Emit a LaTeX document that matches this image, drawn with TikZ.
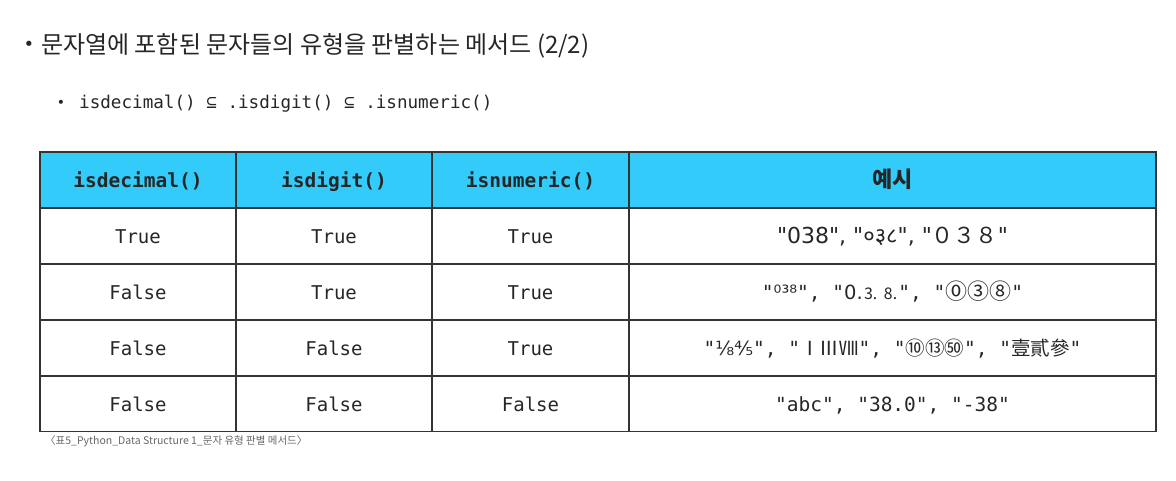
\documentclass[tikz,border=0pt]{standalone}
\usepackage{fontspec}
\setmainfont{Noto Sans CJK KR}
\setmonofont{DejaVu Sans Mono}
\newfontfamily\kr{Noto Sans CJK KR}
\newfontfamily\djs{DejaVu Sans}
\newfontfamily\djm{DejaVu Sans Mono}
\newfontfamily\dev[Script=Devanagari]{Noto Sans}
\definecolor{hdr}{HTML}{33CCFA}
\definecolor{linec}{HTML}{333333}
\begin{document}
\begin{tikzpicture}[x=1pt,y=-1pt,
  cell/.style={draw=linec, line width=1.3pt, inner sep=0pt, minimum height=56pt,
    text height=17pt, text depth=2pt, anchor=center,
    font=\djm\fontsize{19}{22}\selectfont, text=black!85},
  hcell/.style={cell, fill=hdr, font=\djm\bfseries\fontsize{19.5}{22}\selectfont},
  c1/.style={minimum width=196pt},
  c2/.style={minimum width=196pt},
  c3/.style={minimum width=197pt},
  c4/.style={minimum width=527pt},
  excell/.style={cell, c4, font=\djm\fontsize{19.5}{22}\selectfont},
  bul/.style={inner sep=0pt, anchor=center, text=black!85},
  txt/.style={inner sep=0pt, anchor=west, text=black!85}]
\useasboundingbox (0,0) rectangle (1176,480);

% title
\node[bul, font=\djs\fontsize{18}{20}\selectfont] (b1) at (29,46) {•};
\node[txt, font=\kr\fontsize{24}{28}\selectfont] (title) at (41,46) {문자열에 포함된 문자들의 유형을 판별하는 메서드 (2/2)};
\node[bul, font=\djs\fontsize{14}{16}\selectfont] (b2) at (61,104) {•};
\node[txt, font=\djm\fontsize{17.6}{20}\selectfont] (sub) at (79,104) {isdecimal() ⊆ .isdigit() ⊆ .isnumeric()};

% header
\node[hcell, c1] (h1) at (138,180) {isdecimal()};
\node[hcell, c2] (h2) at (334,180) {isdigit()};
\node[hcell, c3] (h3) at (530.5,180) {isnumeric()};
\node[hcell, c4, font=\kr\bfseries\fontsize{22}{24}\selectfont] (h4) at (892.5,180) {예시};

% row 1
\node[cell, c1] (r1a) at (138,236) {True};
\node[cell, c2] (r1b) at (334,236) {True};
\node[cell, c3] (r1c) at (530.5,236) {True};
\node[excell, font=\djs\fontsize{22}{24}\selectfont] (r1d) at (892.5,236) {"038", "{\dev ०३८}", "{\kr ０３８}"};

% row 2
\node[cell, c1] (r2a) at (138,292) {False};
\node[cell, c2] (r2b) at (334,292) {True};
\node[cell, c3] (r2c) at (530.5,292) {True};
\node[excell] (r2d) at (892.5,292) {"{\djs ⁰³⁸}", "{\djs 0.}{\kr\fontsize{16}{18}\selectfont ⒊ ⒏}", "{\kr\fontsize{22}{24}\selectfont ⓪③⑧}"};

% row 3
\node[cell, c1] (r3a) at (138,348) {False};
\node[cell, c2] (r3b) at (334,348) {False};
\node[cell, c3] (r3c) at (530.5,348) {True};
\node[excell] (r3d) at (892.5,348) {"{\djs ⅛⅘}", "{\kr ⅠⅢⅧ}", "{\kr ⑩⑬㊿}", "{\kr 壹貳參}"};

% row 4
\node[cell, c1] (r4a) at (138,403.5) {False};
\node[cell, c2] (r4b) at (334,403.5) {False};
\node[cell, c3] (r4c) at (530.5,403.5) {False};
\node[excell] (r4d) at (892.5,403.5) {"abc", "38.0", "-38"};

% caption
\node[txt, font=\kr\fontsize{10.5}{12}\selectfont, text=black!60] (cap) at (45,441) {〈표5\_Python\_Data Structure 1\_문자 유형 판별 메서드〉};
\end{tikzpicture}
\end{document}
